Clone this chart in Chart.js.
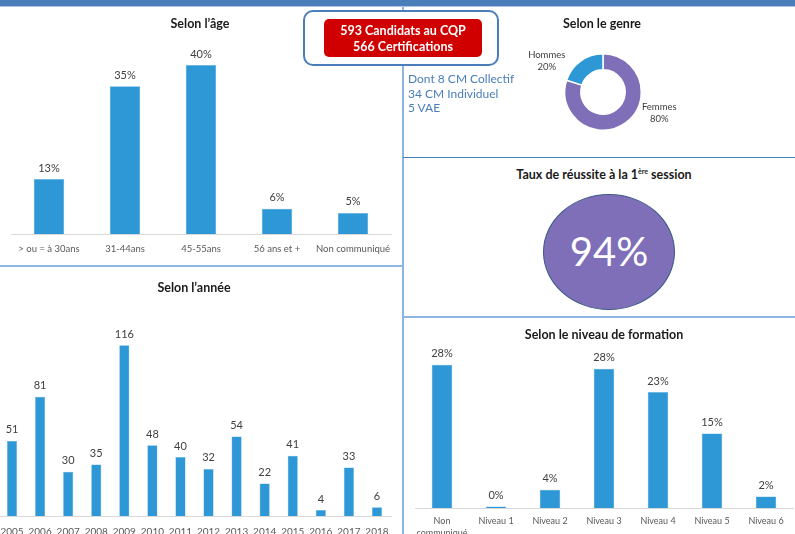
<!DOCTYPE html>
<html lang="fr">
<head>
<meta charset="utf-8">
<script src="https://cdn.jsdelivr.net/npm/chart.js@4"></script>
<style>
  body { margin: 0; background: #fff; font-family: Lato, "Noto Sans", sans-serif; }
  #page { position: relative; width: 795px; height: 534px; overflow: hidden; background: #fff; }
  #page canvas, #page .abs { position: absolute; }
  .title { font-weight: bold; font-size: 12.5px; color: #1a1a1a; transform: translateX(-50%); white-space: nowrap; }
  .line { position: absolute; }
</style>
</head>
<body>
<div id="page">
  <!-- cadre -->
  <div class="line" style="left:0;top:0;width:795px;height:6px;background:#4a7ebb"></div>
  <div class="line" style="left:0;top:6px;width:795px;height:1px;background:#a9c4e6"></div>
  <div class="line" style="left:402px;top:7px;width:2px;height:527px;background:#8eb4e3"></div>
  <div class="line" style="left:0;top:265px;width:403px;height:2px;background:#8eb4e3"></div>
  <div class="line" style="left:403px;top:157px;width:392px;height:1px;background:#4a7ebb"></div>
  <div class="line" style="left:403px;top:316px;width:392px;height:2px;background:#8eb4e3"></div>

  <canvas id="ageChart" width="400" height="259" style="left:0;top:6px"></canvas>
  <canvas id="anneeChart" width="405" height="267" style="left:-2px;top:267px"></canvas>
  <canvas id="niveauChart" width="392" height="216" style="left:403px;top:318px"></canvas>
  <canvas id="genreChart" width="180" height="104" style="left:520px;top:40px"></canvas>

  <div class="abs title" style="left:200px;top:16px">Selon l’âge</div>
  <div class="abs title" style="left:602px;top:16px">Selon le genre</div>
  <div class="abs title" style="left:604px;top:167px">Taux de réussite à la 1<sup style="font-size:7px">ère</sup> session</div>
  <div class="abs title" style="left:194px;top:280px">Selon l’année</div>
  <div class="abs title" style="left:604px;top:327px">Selon le niveau de formation</div>

  <!-- encart effectifs -->
  <div class="abs" style="left:303px;top:10px;width:192px;height:52px;border:2px solid #4a7ebb;border-radius:10px;background:#fff"></div>
  <div class="abs" id="cqpBox" style="left:324px;top:19px;width:158px;height:38px;background:#d00000;border-radius:5px;color:#fff;font-weight:bold;font-size:12.5px;line-height:15.5px;text-align:center;padding-top:4px;box-sizing:border-box"></div>
  <div class="abs" id="detail" style="left:408px;top:72px;color:#4a7ebb;font-size:12px;line-height:14.5px"></div>

  <!-- taux de réussite -->
  <div class="abs" id="taux" style="left:543px;top:194px;width:132px;height:116px;border-radius:50%;background:#7e6fb8;border:1.5px solid #3b5a86;box-sizing:border-box;color:#fff;font-size:40px;line-height:113px;text-align:center"></div>
</div>

<script>
// données
const ageLabels = ["> ou = à 30ans", "31-44ans", "45-55ans", "56 ans et +", "Non communiqué"];
const ageValues = [13, 35, 40, 6, 5];

const annees = ["2005", "2006", "2007", "2008", "2009", "2010", "2011", "2012", "2013", "2014", "2015", "2016", "2017", "2018"];
const anneeValues = [51, 81, 30, 35, 116, 48, 40, 32, 54, 22, 41, 4, 33, 6];

const niveauLabels = [["Non", "communiqué"], "Niveau 1", "Niveau 2", "Niveau 3", "Niveau 4", "Niveau 5", "Niveau 6"];
const niveauValues = [28.4, 0.3, 3.6, 27.6, 23, 14.8, 2.3];

const genreLabels = ["Femmes", "Hommes"];
const genreValues = [80, 20];

const nbCandidats = 593;
const nbCertifications = 566;
const detailLignes = ["Dont 8 CM Collectif", "34 CM Individuel", "5 VAE"];
const tauxReussite = 94;

const BLEU = "#2e98d7";
const VIOLET = "#7e6fb8";
const GRIS_TXT = "#404040";

document.getElementById("cqpBox").innerHTML =
  nbCandidats + " Candidats au CQP<br>" + nbCertifications + " Certifications";
document.getElementById("detail").innerHTML = detailLignes.join("<br>");
document.getElementById("taux").textContent = tauxReussite + "%";

// étiquettes de valeur au-dessus des barres
const valueLabels = {
  id: "valueLabels",
  afterDatasetsDraw(chart, args, opts) {
    const ctx = chart.ctx;
    const meta = chart.getDatasetMeta(0);
    const data = chart.data.datasets[0].data;
    ctx.save();
    ctx.font = (opts.size || 11) + "px Lato, sans-serif";
    ctx.fillStyle = GRIS_TXT;
    ctx.textAlign = "center";
    ctx.textBaseline = "middle";
    meta.data.forEach((bar, i) => {
      const txt = opts.fmt ? opts.fmt(data[i]) : String(data[i]);
      ctx.fillText(txt, bar.x, bar.y - (opts.offset || 11));
    });
    ctx.restore();
  },
};

function barChart(id, labels, values, o) {
  return new Chart(document.getElementById(id), {
    type: "bar",
    data: {
      labels: labels,
      datasets: [{
        data: values,
        backgroundColor: BLEU,
        borderColor: "#5fb0e4",
        borderWidth: 0.5,
        barPercentage: o.barPct,
        categoryPercentage: 1,
      }],
    },
    options: {
      responsive: false,
      animation: false,
      layout: { padding: o.padding },
      plugins: {
        legend: { display: false },
        tooltip: { enabled: false },
        valueLabels: { fmt: o.fmt, size: o.labelSize, offset: o.offset },
      },
      scales: {
        x: {
          grid: { display: false, tickLength: o.tickLen },
          border: { display: true, color: "#d9d9d9", width: 1 },
          ticks: {
            color: "#595959",
            font: { family: "Lato", size: o.tickSize, lineHeight: 1.35 },
            padding: 1,
            maxRotation: 0,
            autoSkip: false,
          },
          afterFit: (scale) => { scale.height = o.axisH; },
        },
        y: { display: false, min: 0, max: o.max },
      },
    },
    plugins: [valueLabels],
  });
}

barChart("ageChart", ageLabels, ageValues, {
  barPct: 0.4,
  padding: { left: 11, right: 9, top: 54, bottom: 0 },
  axisH: 31,
  tickLen: 8,
  tickSize: 9.5,
  max: 41.2,
  labelSize: 11,
  offset: 11,
  fmt: (v) => Math.round(v) + "%",
});

barChart("anneeChart", annees, anneeValues, {
  barPct: 0.36,
  padding: { left: 0, right: 12, top: 33, bottom: 0 },
  axisH: 18,
  tickLen: 8,
  tickSize: 10,
  max: 146.7,
  labelSize: 11,
  offset: 11,
  fmt: (v) => String(v),
});

barChart("niveauChart", niveauLabels, niveauValues, {
  barPct: 0.38,
  padding: { left: 12, right: 2, top: 37, bottom: 0 },
  axisH: 26,
  tickLen: 6,
  tickSize: 9,
  max: 30.35,
  labelSize: 11,
  offset: 11,
  fmt: (v) => Math.round(v) + "%",
});

// répartition par genre
const genreLabelsPlugin = {
  id: "genreLabels",
  afterDatasetsDraw(chart) {
    const ctx = chart.ctx;
    const meta = chart.getDatasetMeta(0);
    ctx.save();
    ctx.font = "9.5px Lato, sans-serif";
    ctx.fillStyle = GRIS_TXT;
    ctx.textAlign = "center";
    ctx.textBaseline = "middle";
    meta.data.forEach((arc, i) => {
      const mid = (arc.startAngle + arc.endAngle) / 2;
      const dx = Math.cos(mid), dy = Math.sin(mid);
      const x = arc.x + Math.sign(dx) * (arc.outerRadius + 18);
      const y = arc.y + dy * arc.outerRadius * 0.85 - 5;
      ctx.fillText(genreLabels[i], x, y - 6);
      ctx.fillText(genreValues[i] + "%", x, y + 6);
    });
    ctx.restore();
  },
};

new Chart(document.getElementById("genreChart"), {
  type: "doughnut",
  data: {
    labels: genreLabels,
    datasets: [{
      data: genreValues,
      backgroundColor: [VIOLET, BLEU],
      borderColor: "#fff",
      borderWidth: 1.5,
    }],
  },
  options: {
    responsive: false,
    animation: false,
    cutout: "58%",
    layout: { padding: { left: 44, right: 58, top: 13, bottom: 13 } },
    plugins: { legend: { display: false }, tooltip: { enabled: false } },
  },
  plugins: [genreLabelsPlugin],
});
</script>
</body>
</html>
